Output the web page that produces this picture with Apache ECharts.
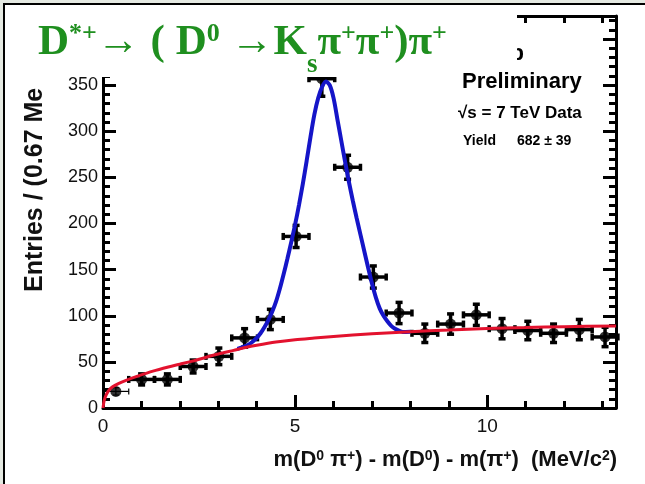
<!DOCTYPE html>
<html>
<head>
<meta charset="utf-8">
<script src="https://cdn.jsdelivr.net/npm/echarts@6/dist/echarts.min.js"></script>
<style>
html,body{margin:0;padding:0;background:#e4e9e2;overflow:hidden;}
#panel{position:absolute;left:3px;top:3px;width:700px;height:600px;background:#fff;border-left:2px solid #000;border-top:2px solid #000;}
#main{position:absolute;left:0;top:0;width:645px;height:484px;}
</style>
</head>
<body>
<div id="panel"></div>
<div id="main"></div>
<script>
// bins of 0.67 MeV/c2
let binCenters = [0.335, 1.005, 1.675, 2.345, 3.015, 3.685, 4.355, 5.025, 5.695, 6.365, 7.035, 7.705, 8.375, 9.045, 9.715, 10.385, 11.055, 11.725, 12.395, 13.065];
let entries = [18, 31, 31, 45, 56, 76, 96, 186, 357, 261, 142, 103, 81, 91, 101, 86, 84, 81, 85, 77];
let entryErr = [4, 6, 6, 7, 9, 10, 11, 12, 19, 13, 12, 11.5, 10, 11, 11.5, 11, 10, 10, 11, 10.5];
let binHalf = 0.335;

// background fit (red)
let bkgCurve = [[0,0],[0.03,8],[0.08,14],[0.15,19],[0.25,23],[0.4,26.5],[0.6,30],[0.9,34.5],[1.3,40],[1.7,44.5],[2.0,47.5],[2.3,50.5],[2.6,54],[3.0,58.5],[3.4,62.5],[3.7,65.5],[4.0,68],[4.5,71.5],[5.0,74],[5.5,75.8],[6.0,77.5],[7.0,80.5],[8.0,82.7],[9.0,84.5],[10.0,86.3],[11.0,87.3],[12.0,88.2],[13.35,89]];
// signal + background fit (blue)
let fitCurve = [[3.5,64],[3.6,65.5],[3.7,67],[3.8,69],[3.9,72],[4.0,76],[4.1,81],[4.2,87.5],[4.3,95],[4.4,104],[4.5,115],[4.6,129],[4.7,145],[4.8,162],[4.9,180],[5.0,199],[5.1,220],[5.2,243],[5.3,268],[5.4,294],[5.5,318],[5.6,336],[5.7,348],[5.8,354],[5.9,350],[6.0,336],[6.1,313],[6.2,290],[6.3,267],[6.4,245],[6.5,225],[6.6,206],[6.7,188],[6.8,170],[6.9,152],[7.0,135],[7.1,120],[7.2,108],[7.3,100],[7.4,94],[7.5,89],[7.6,86],[7.7,84],[7.8,82.5],[8.0,82.7]];

let xMax = 13.35, yMax = 425;
let sans = '"Liberation Sans", Arial, sans-serif';
let serif = '"Liberation Serif", "Times New Roman", serif';
let green = '#1f8f1f';

let myChart = echarts.init(document.getElementById("main"));

function axisX(pos, interval, tickLen, showLine, showLabel) {
    return {
        type:'value', position:pos, min:0, max:xMax, interval:interval,
        axisLine:{show:showLine, onZero:false, lineStyle:{color:'#000', width:3}},
        axisTick:{show:true, inside:true, length:tickLen, lineStyle:{color:'#000', width:3}},
        splitLine:{show:false},
        axisLabel:{
            show:showLabel, margin:9, color:'#111', fontSize:19, fontFamily:sans,
            formatter:function (v) { return Math.abs(v % 5) < 1e-6 ? v : ''; }
        }
    };
}
function axisY(pos, interval, tickLen, showLine, showLabel) {
    return {
        type:'value', position:pos, min:0, max:yMax, interval:interval,
        axisLine:{show:showLine, onZero:false, lineStyle:{color:'#000', width:3}},
        axisTick:{show:true, inside:true, length:tickLen, lineStyle:{color:'#000', width:3}},
        splitLine:{show:false},
        axisLabel:{
            show:showLabel, margin:5, color:'#111', fontSize:18, fontFamily:sans,
            formatter:function (v) { return (Math.abs(v % 50) < 1e-6 && v <= 350) ? v : ''; }
        }
    };
}

function renderErrorBar(params, api) {
    let x = api.value(0), y = api.value(1), e = api.value(2);
    let l = api.coord([x - binHalf, y]);
    let r = api.coord([x + binHalf, y]);
    let t = api.coord([x, y + e]);
    let b = api.coord([x, y - e]);
    let thin = params.dataIndex === 0;   // first bin is drawn with a thin bar
    let style = {stroke:'#000', lineWidth: thin ? 1.2 : 3.5};
    let c = thin ? 3 : 3.5;
    let seg = function (x1, y1, x2, y2) {
        return {type:'line', shape:{x1:x1, y1:y1, x2:x2, y2:y2}, style:style};
    };
    return {type:'group', children:[
        seg(l[0], l[1], r[0], r[1]),
        seg(t[0], t[1], b[0], b[1]),
        seg(l[0], l[1] - c, l[0], l[1] + c),
        seg(r[0], r[1] - c, r[0], r[1] + c),
        seg(t[0] - c, t[1], t[0] + c, t[1]),
        seg(b[0] - c, b[1], b[0] + c, b[1])
    ]};
}

let option = {
    animation:false,
    title:{
        left:38, top:21, padding:0, z:120,
        text:'{m|D}{p|*+}{m|→ ( D}{p|0}{m| →K}{b|s}{m|π}{p|+}{m|π}{p|+}{m|)π}{p|+}',
        textStyle:{
            rich:{
                m:{fontFamily:serif, fontSize:43, color:green, lineHeight:58, verticalAlign:'top'},
                p:{fontFamily:serif, fontSize:26, color:green, lineHeight:26, verticalAlign:'top'},
                b:{fontFamily:serif, fontSize:27, color:green, lineHeight:27, verticalAlign:'bottom'}
            }
        }
    },
    grid:{left:103, right:29, top:16, bottom:76, containLabel:false, outerBoundsMode:'none'},
    xAxis:[
        axisX('bottom', 1, 7, true, true),
        axisX('bottom', 5, 13, false, false),
        axisX('top', 1, 7, true, false)
    ],
    yAxis:[
        axisY('left', 10, 7, true, true),
        axisY('left', 50, 13, false, false),
        axisY('right', 10, 7, true, false),
        axisY('right', 50, 13, false, false)
    ],
    series:[{
        name:'errors',
        type:'custom',
        renderItem:renderErrorBar,
        encode:{x:0, y:1},
        data:binCenters.map(function (x, i) { return [x, entries[i], entryErr[i]]; }),
        z:2
    },{
        name:'data',
        type:'scatter',
        symbol:'circle',
        symbolSize:11,
        itemStyle:{color:'#000'},
        data:binCenters.map(function (x, i) { return [x, entries[i]]; }),
        z:3
    },{
        name:'fit',
        type:'line',
        data:fitCurve,
        showSymbol:false,
        smooth:0.3,
        lineStyle:{color:'#1515c8', width:4},
        z:4
    },{
        name:'background',
        type:'line',
        data:bkgCurve,
        showSymbol:false,
        smooth:0.3,
        lineStyle:{color:'#e3122e', width:3},
        z:5
    }],
    graphic:[
        // experiment label, mostly hidden behind the title box
        {type:'text', x:524, y:54, z:90,
            style:{text:'LHCb', align:'right', verticalAlign:'middle', fontFamily:sans, fontWeight:'bold', fontSize:22, fill:'#000'}},
        {type:'rect', shape:{x:8, y:7, width:509, height:70}, style:{fill:'#fff'}, z:100},
        {type:'text', x:462, y:82, z:110,
            style:{text:'Preliminary', align:'left', verticalAlign:'middle', fontFamily:sans, fontWeight:'bold', fontSize:22, fill:'#000'}},
        {type:'text', x:458, y:113, z:110,
            style:{text:'√s = 7 TeV Data', align:'left', verticalAlign:'middle', fontFamily:sans, fontWeight:'bold', fontSize:17, fill:'#000'}},
        {type:'text', x:463, y:141, z:110,
            style:{text:'Yield', align:'left', verticalAlign:'middle', fontFamily:sans, fontWeight:'bold', fontSize:14, fill:'#000'}},
        {type:'text', x:517, y:141, z:110,
            style:{text:'682 ± 39', align:'left', verticalAlign:'middle', fontFamily:sans, fontWeight:'bold', fontSize:14, fill:'#000'}},
        {type:'text', x:35, y:292, rotation:Math.PI / 2, z:50,
            style:{text:'Entries / (0.67 Me', align:'left', verticalAlign:'middle', fontFamily:sans, fontWeight:'bold', fontSize:25, fill:'#111'}},
        {type:'text', x:617, y:463, z:110,
            style:{
                text:'{a|m(D}{s|0}{a| π}{s|+}{a|) - m(D}{s|0}{a|) - m(π}{s|+}{a|)  (MeV/c}{s|2}{a|)}',
                align:'right', verticalAlign:'middle', fill:'#111',
                rich:{
                    a:{fontFamily:sans, fontWeight:'bold', fontSize:22, lineHeight:28, verticalAlign:'top', fill:'#111'},
                    s:{fontFamily:sans, fontWeight:'bold', fontSize:14, lineHeight:18, verticalAlign:'top', fill:'#111'}
                }
            }}
    ]
};
myChart.setOption(option);
</script>
</body>
</html>
